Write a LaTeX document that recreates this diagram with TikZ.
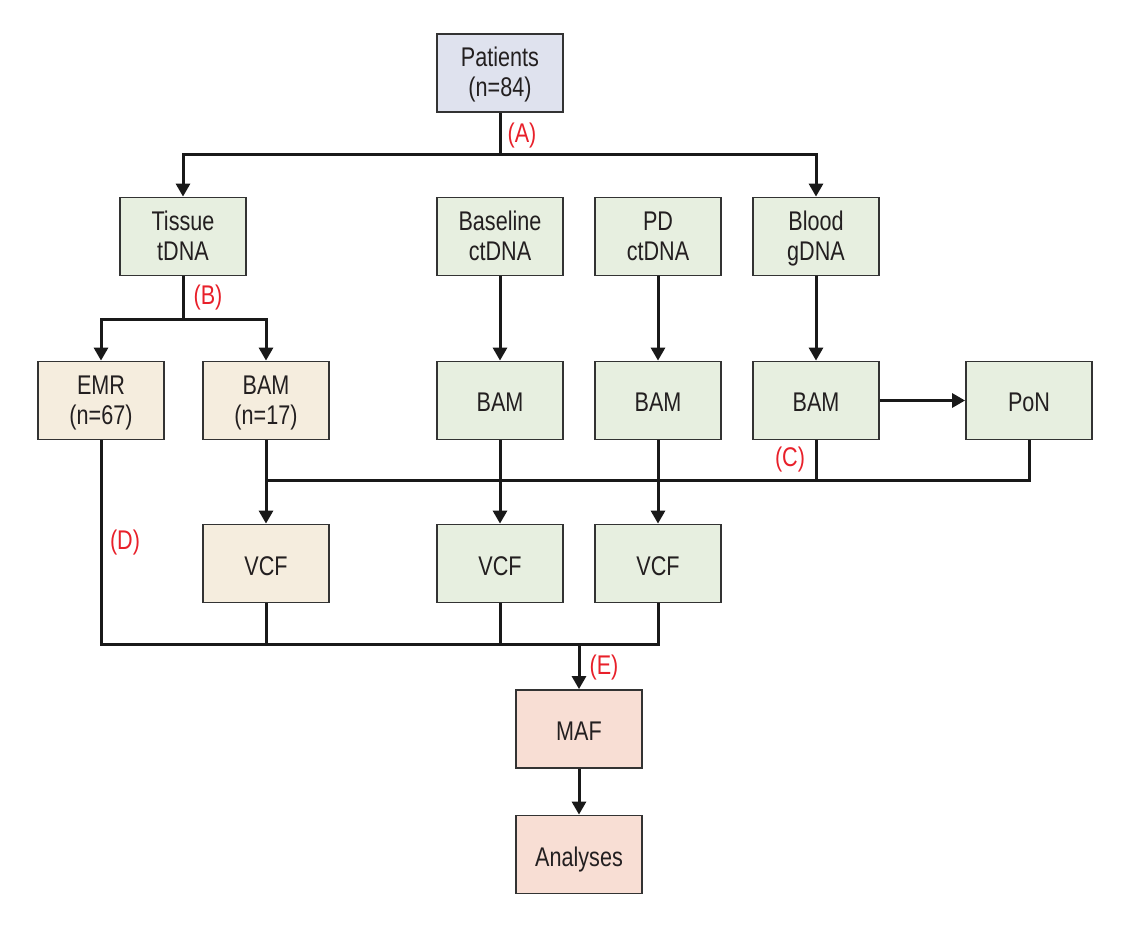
\documentclass[tikz,border=0pt]{standalone}
\usepackage{fontspec}
\setmainfont{Liberation Sans}[FakeStretch=0.8]
\usetikzlibrary{arrows.meta}
\definecolor{lav}{RGB}{223,226,238}
\definecolor{grn}{RGB}{231,239,224}
\definecolor{tan}{RGB}{245,237,222}
\definecolor{sal}{RGB}{248,222,212}
\definecolor{bord}{RGB}{51,51,51}
\definecolor{lbl}{RGB}{232,32,42}
\definecolor{txt}{RGB}{35,31,32}
\newcommand{\twol}[2]{\rule{0pt}{18pt}\smash{#1}\\\smash{#2}}
\newcommand{\onel}[1]{\rule{0pt}{23pt}\smash{#1}}
\tikzset{
  box/.style={draw=bord, line width=1.8pt, minimum width=126pt, minimum height=78pt,
    align=center, inner sep=0pt, text=txt, font=\fontsize{27}{30}\selectfont},
  lavbox/.style={box, fill=lav},
  grnbox/.style={box, fill=grn},
  tanbox/.style={box, fill=tan},
  salbox/.style={box, fill=sal},
  conn/.style={line width=3pt, draw=black!90},
  arr/.style={conn, -{Triangle[length=13pt,width=14pt]}},
  lab/.style={text=lbl, font=\fontsize{27}{30}\selectfont, inner sep=0pt}
}
\begin{document}
\begin{tikzpicture}[x=1pt,y=-1pt]
\useasboundingbox (0,0) rectangle (1128,925);
% nodes
\node[lavbox] (patients) at (500,73) {\twol{Patients}{(n=84)}};
\node[grnbox] (tissue) at (183,236.5) {\twol{Tissue}{tDNA}};
\node[grnbox] (baseline) at (500,236.5) {\twol{Baseline}{ctDNA}};
\node[grnbox] (pd) at (658,236.5) {\twol{PD}{ctDNA}};
\node[grnbox] (blood) at (816,236.5) {\twol{Blood}{gDNA}};
\node[tanbox] (emr) at (101,400.5) {\twol{EMR}{(n=67)}};
\node[tanbox] (bam1) at (266,400.5) {\twol{BAM}{(n=17)}};
\node[grnbox] (bam2) at (500,400.5) {\onel{BAM}};
\node[grnbox] (bam3) at (658,400.5) {\onel{BAM}};
\node[grnbox] (bam4) at (816,400.5) {\onel{BAM}};
\node[grnbox] (pon) at (1029,400.5) {\onel{PoN}};
\node[tanbox] (vcf1) at (266,563.5) {\onel{VCF}};
\node[grnbox] (vcf2) at (500,563.5) {\onel{VCF}};
\node[grnbox] (vcf3) at (658,563.5) {\onel{VCF}};
\node[salbox] (maf) at (579,729) {\onel{MAF}};
\node[salbox] (analyses) at (579,854.5) {\onel{Analyses}};
% junctions
\coordinate (jA) at (500,155);
\coordinate (jB) at (183,320);
\coordinate (jC) at (266,480);
\coordinate (jE) at (579,644);
% connectors
\draw[conn] (patients.south) -- (jA);
\draw[arr] (jA) -| (tissue.north);
\draw[arr] (jA) -| (blood.north);
\draw[arr] (baseline.south) -- (bam2.north);
\draw[arr] (pd.south) -- (bam3.north);
\draw[arr] (blood.south) -- (bam4.north);
\draw[conn] (tissue.south) -- (jB);
\draw[arr] (jB) -| (emr.north);
\draw[arr] (jB) -| (bam1.north);
\draw[arr] (bam4.east) -- (pon.west);
\draw[arr] (bam1.south) -- (vcf1.north);
\draw[conn] (pon.south) |- (jC);
\draw[conn] (bam4.south) -- (bam4.south |- jC);
\draw[arr] (bam2.south) -- (vcf2.north);
\draw[arr] (bam3.south) -- (vcf3.north);
\draw[conn] (emr.south) |- (jE);
\draw[conn] (vcf3.south) |- (jE);
\draw[conn] (vcf1.south) -- (vcf1.south |- jE);
\draw[conn] (vcf2.south) -- (vcf2.south |- jE);
\draw[arr] (jE) -- (maf.north);
\draw[arr] (maf.south) -- (analyses.north);
% labels
\node[lab] (la) at (522,136) {(A)};
\node[lab] (lb) at (208,298) {(B)};
\node[lab] (lc) at (790,460) {(C)};
\node[lab] (ld) at (125,543) {(D)};
\node[lab] (le) at (604,668) {(E)};
\end{tikzpicture}
\end{document}
